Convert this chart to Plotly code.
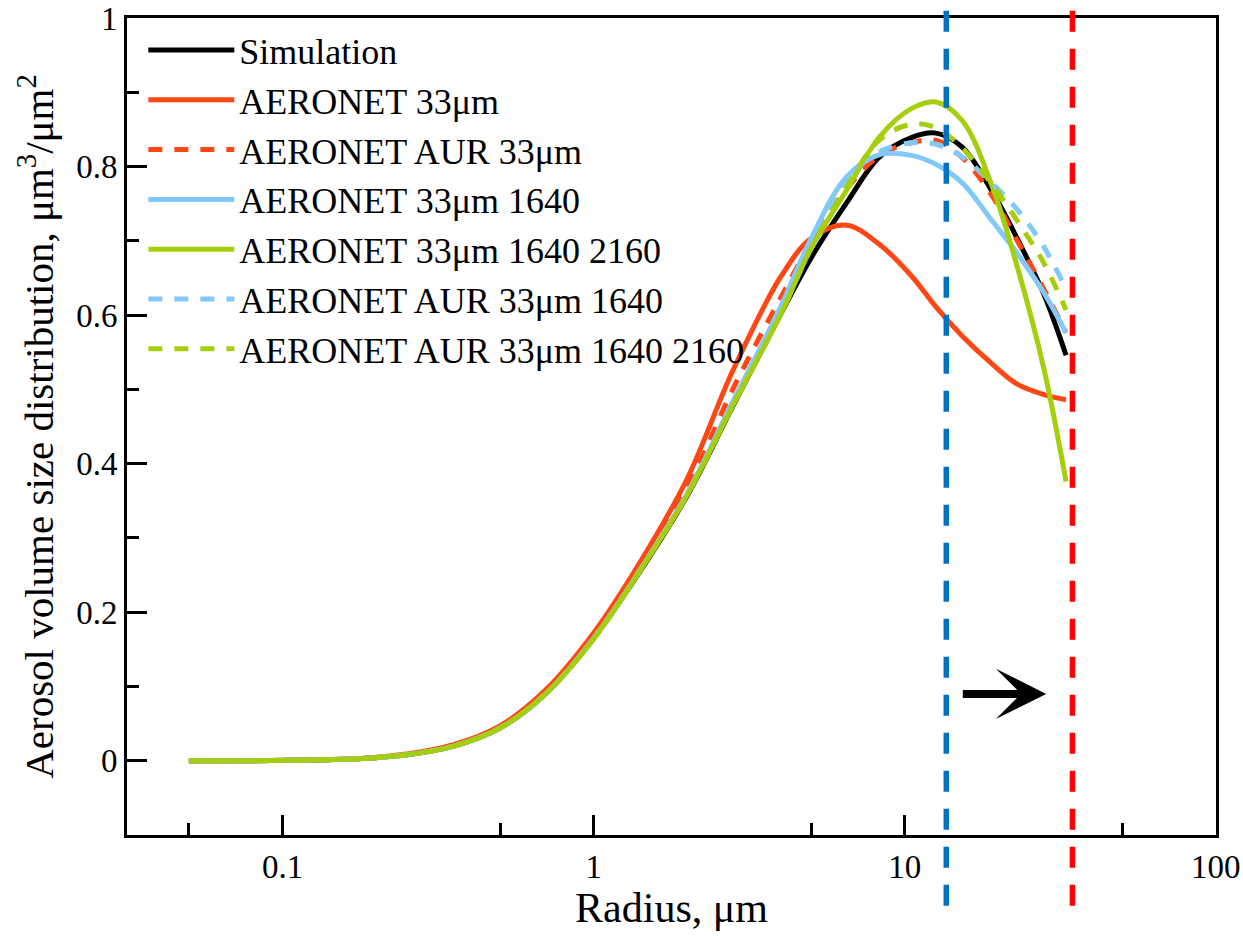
import math
import plotly.graph_objects as go

# Particle radius grid, µm
radius = [0.05, 0.08, 0.12, 0.18, 0.25, 0.35, 0.5, 0.7, 1.0, 1.4, 2.0, 2.8,
          4.0, 5.0, 6.5, 8.3, 10.5, 12.6, 15.3, 19.0, 23.0, 28.0, 33.0]

# Volume size distributions, µm^3/µm^2
simulation = [0, 0, 0.001, 0.003, 0.008, 0.019, 0.044, 0.090, 0.165, 0.253, 0.357, 0.477,
              0.602, 0.677, 0.751, 0.813, 0.839, 0.845, 0.826, 0.768, 0.703, 0.628, 0.546]
aeronet_33 = [0, 0, 0.001, 0.003, 0.009, 0.021, 0.047, 0.095, 0.172, 0.265, 0.380, 0.525,
              0.652, 0.703, 0.721, 0.695, 0.653, 0.611, 0.572, 0.535, 0.507, 0.493, 0.486]
aeronet_aur_33 = [0, 0, 0.001, 0.003, 0.008, 0.020, 0.045, 0.092, 0.168, 0.259, 0.367, 0.500,
                  0.624, 0.698, 0.770, 0.815, 0.832, 0.835, 0.812, 0.762, 0.700, 0.635, 0.576]
aeronet_33_1640 = [0, 0, 0.001, 0.003, 0.008, 0.019, 0.044, 0.090, 0.165, 0.255, 0.360, 0.483,
                   0.612, 0.703, 0.786, 0.816, 0.815, 0.803, 0.778, 0.728, 0.683, 0.630, 0.576]
aeronet_33_1640_2160 = [0, 0, 0.001, 0.003, 0.008, 0.019, 0.044, 0.090, 0.164, 0.254, 0.358, 0.478,
                        0.602, 0.690, 0.768, 0.840, 0.878, 0.887, 0.862, 0.776, 0.665, 0.528, 0.376]
aeronet_aur_33_1640 = [0, 0, 0.001, 0.003, 0.008, 0.019, 0.044, 0.090, 0.165, 0.255, 0.360, 0.483,
                       0.608, 0.698, 0.782, 0.820, 0.832, 0.830, 0.813, 0.778, 0.742, 0.692, 0.635]
aeronet_aur_33_1640_2160 = [0, 0, 0.001, 0.003, 0.008, 0.019, 0.044, 0.090, 0.164, 0.254, 0.358, 0.478,
                            0.602, 0.690, 0.772, 0.836, 0.857, 0.852, 0.825, 0.777, 0.727, 0.670, 0.607]

series = [
    ("Simulation", simulation, "#000000", "solid"),
    ("AERONET 33μm", aeronet_33, "#ff4714", "solid"),
    ("AERONET AUR 33μm", aeronet_aur_33, "#ff4714", "14px,12px"),
    ("AERONET 33μm 1640", aeronet_33_1640, "#82c8f8", "solid"),
    ("AERONET 33μm 1640 2160", aeronet_33_1640_2160, "#a5cf0c", "solid"),
    ("AERONET AUR 33μm 1640", aeronet_aur_33_1640, "#82c8f8", "14px,12px"),
    ("AERONET AUR 33μm 1640 2160", aeronet_aur_33_1640_2160, "#a5cf0c", "14px,12px"),
]

# Reference radii marked by vertical lines
blue_marker_radius = 13.6
red_marker_radius = 34.6

# Arrow between the two markers
arrow_tail_radius = 15.2
arrow_head_radius = 28.5
arrow_level = 0.09

x_tick_vals = [0.1, 1, 10, 100]
x_tick_text = ["0.1", "1", "10", "100"]
x_minor_vals = [0.05, 0.5, 5, 50]

SERIF = "Liberation Serif, Times New Roman, serif"

fig = go.Figure()
for name, vals, color, dash in series:
    fig.add_trace(go.Scatter(
        x=radius, y=vals, name=name, mode="lines",
        line=dict(color=color, width=5, dash=dash, shape="spline", smoothing=1.0),
    ))

for xv, col in [(blue_marker_radius, "#0070c0"), (red_marker_radius, "#ff0000")]:
    fig.add_shape(type="line", xref="x", yref="paper",
                  x0=xv, x1=xv, y0=1.009, y1=-0.103,
                  line=dict(color=col, width=5.5, dash="21px,17px"), layer="above")

fig.add_annotation(
    x=math.log10(arrow_head_radius), y=arrow_level,
    ax=math.log10(arrow_tail_radius), ay=arrow_level,
    xref="x", yref="y", axref="x", ayref="y",
    text="", showarrow=True, arrowhead=3, arrowsize=1.05, arrowwidth=8,
    arrowcolor="black",
)

axis_common = dict(
    showline=True, linewidth=3, linecolor="black", mirror=True,
    showgrid=False, zeroline=False, ticks="inside", tickwidth=2.5,
    tickcolor="black", ticklen=20, automargin=False,
)

fig.update_xaxes(
    type="log", range=[-1.5, 2.0005],
    tickmode="array", tickvals=x_tick_vals, ticktext=x_tick_text,
    minor=dict(tickmode="array", tickvals=x_minor_vals, ticks="inside",
               ticklen=12, tickwidth=2.5, tickcolor="black", showgrid=False),
    tickfont=dict(family=SERIF, size=33, color="black"),
    title=dict(text="Radius, μm", font=dict(family=SERIF, size=42, color="black"), standoff=8),
    **axis_common,
)
fig.update_yaxes(
    range=[-0.1, 1.0], tick0=0, dtick=0.2,
    minor=dict(dtick=0.1, tick0=0, ticks="inside", ticklen=12, tickwidth=2.5,
               tickcolor="black", showgrid=False),
    tickfont=dict(family=SERIF, size=33, color="black"),
    title=dict(text="Aerosol volume size distribution, μm<sup>3</sup>/μm<sup>2</sup>",
               font=dict(family=SERIF, size=41, color="black"), standoff=10),
    **axis_common,
)

fig.update_layout(
    width=1243, height=936,
    margin=dict(l=127, r=27, t=18, b=101),
    paper_bgcolor="white", plot_bgcolor="white",
    font=dict(family=SERIF, color="black", size=33),
    legend=dict(x=0.015, y=0.9974, xanchor="left", yanchor="top",
                font=dict(family=SERIF, size=36, color="black"),
                bgcolor="rgba(0,0,0,0)", itemwidth=86),
)

fig.write_html("out.html")
